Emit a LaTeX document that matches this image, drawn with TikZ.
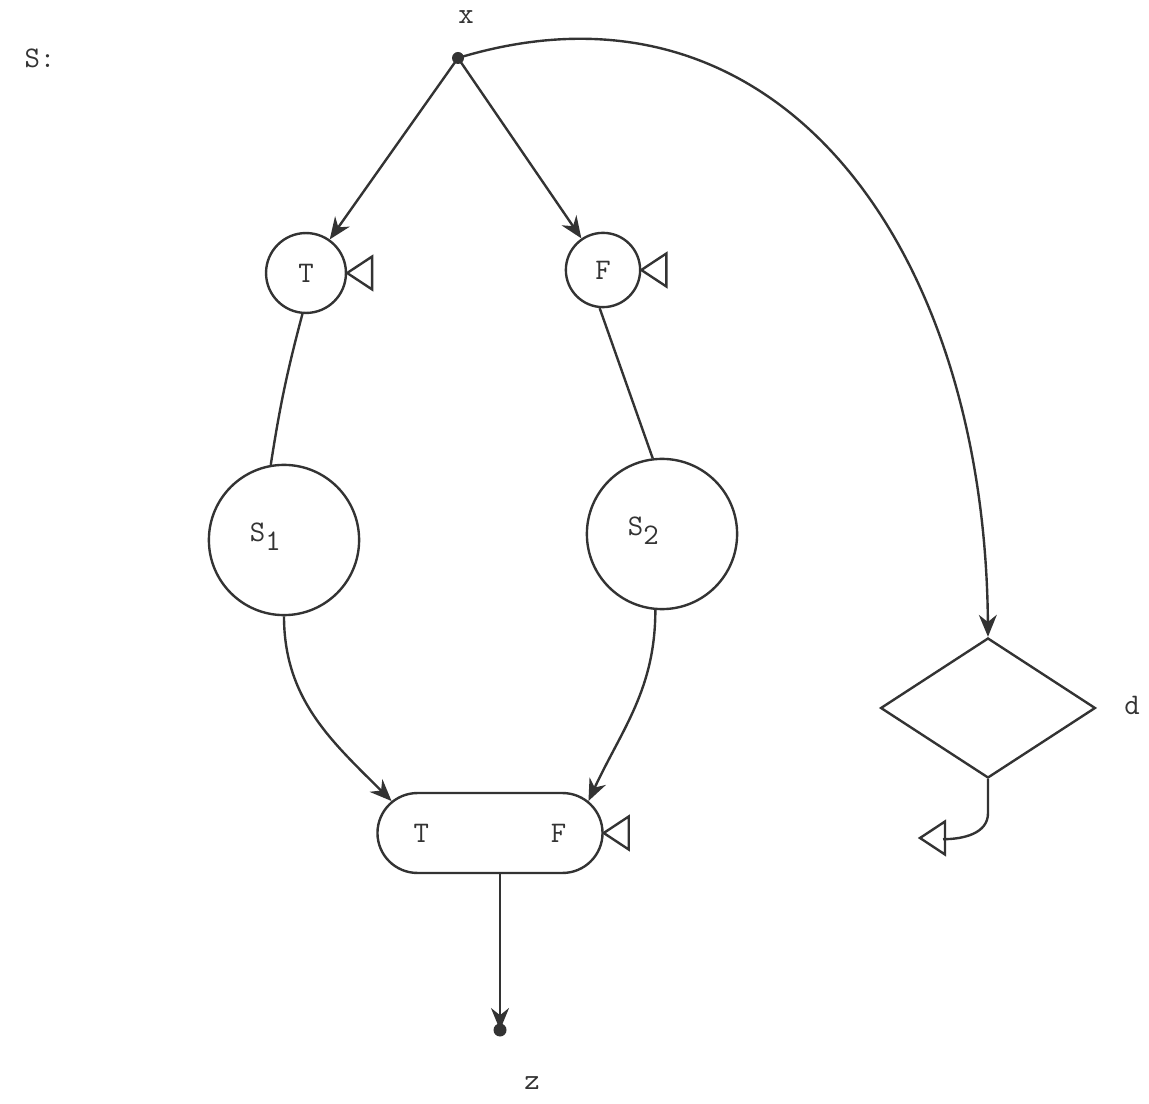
\documentclass[tikz,border=0pt]{standalone}
\usetikzlibrary{arrows.meta,shapes.geometric,shapes.misc}

\newcommand\lowsub[1]{\raisebox{-0.7ex}{#1}}

\tikzset{
  every node/.style={font=\fontsize{15}{17}\selectfont\ttfamily,text=black!80},
  ink/.style={draw=black!80,line width=1.2pt},
  arr/.style={ink,-{Stealth[length=11pt,width=9pt]}},
}

\begin{document}
\begin{tikzpicture}[x=0.882cm,y=0.882cm]
  \useasboundingbox (0,0) rectangle (22.98,22.06);
  % entry, exit and loose ends
  \coordinate (x) at (9.16,20.90);
  \coordinate (z) at (10.0,1.46);
  \coordinate (tip) at (18.40,5.30);
  \node[inner sep=1pt] (xl) at (9.32,21.72) {x};
  \node (sl) at (0.80,20.90) {S:};
  \node (zl) at (10.64,0.40) {z};
  \node (dl) at (22.64,7.96) {d};
  % the boxes
  \node[ink,circle,minimum size=1.41cm,inner sep=0] (t) at (6.12,16.60) {T};
  \node[ink,circle,minimum size=1.31cm,inner sep=0] (f) at (12.06,16.66) {F};
  \node[ink,circle,minimum size=2.65cm,inner sep=0,
        label={[xshift=-0.33cm,yshift=0.05cm]center:S\lowsub{1}}] (s1) at (5.68,11.26) {};
  \node[ink,circle,minimum size=2.65cm,inner sep=0,
        label={[xshift=-0.33cm,yshift=0.05cm]center:S\lowsub{2}}] (s2) at (13.24,11.38) {};
  \node[ink,rounded rectangle,minimum width=3.97cm,minimum height=1.41cm,inner sep=0] (box) at (9.80,5.40) {T\hspace{2.15cm}F};
  \node[ink,diamond,minimum width=3.79cm,minimum height=2.47cm,inner sep=0] (d) at (19.76,7.90) {};
  % connectors
  \draw[arr] (x) -- (t);
  \draw[arr] (x) -- (f);
  \draw[arr] (x) .. controls (15.6,22.86) and (19.7,17.06) .. (d.north);
  \draw[ink] (t.265) to[bend right=3] (s1.100);
  \draw[ink] (f.265) -- (s2.97);
  \draw[arr] (s1.south) to[out=-90,in=135] (box.162);
  \draw[arr] (s2.265) to[out=-90,in=65] (box.18);
  \draw[arr] (z |- box.south) -- (z);
  \draw[ink] (d.south) -- ++(0,-0.68) to[out=-90,in=0] ++(-0.9,-0.52);
  \fill[black!80] (x) circle (0.12);
  \fill[black!80] (z) circle (0.13);
  % open triangles
  \foreach \p in {(t.east),(f.east),(box.east),(tip)}
    \draw[ink,line join=miter] \p -- ++(0.5,0.33) -- ++(0,-0.66) -- cycle;
\end{tikzpicture}
\end{document}
